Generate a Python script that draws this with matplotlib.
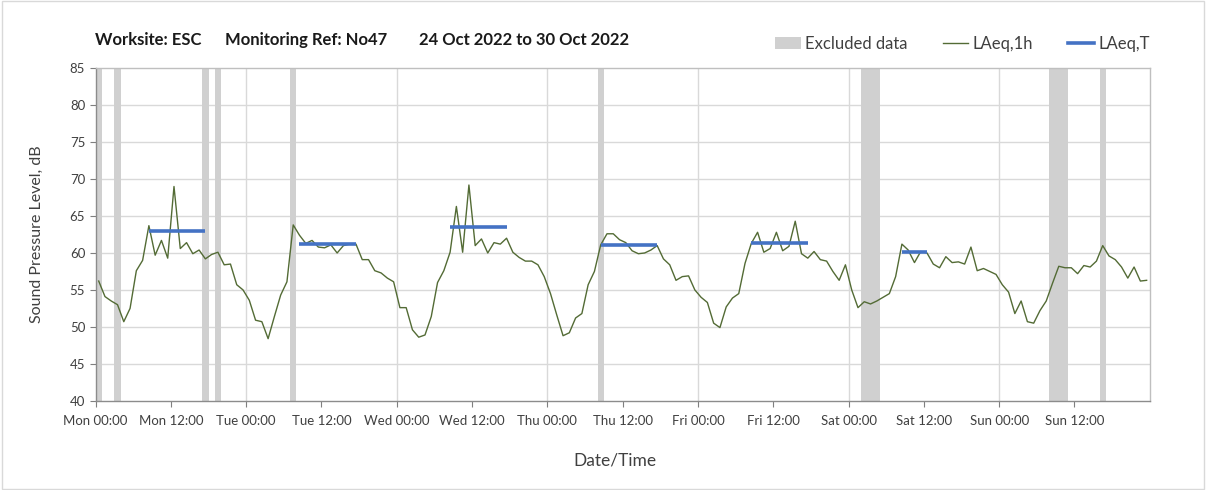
import matplotlib
matplotlib.use("Agg")
import matplotlib.pyplot as plt
from matplotlib.patches import Patch, Rectangle
from matplotlib.lines import Line2D

plt.rcParams['font.family'] = ['Lato', 'DejaVu Sans']

# hourly LAeq,1h values, Mon 00:00 .. Sun 23:00
laeq_1h = [
    # Mon
    56.2, 54.1, 53.5, 53.0, 50.7, 52.5, 57.6, 59.0, 63.7, 59.7, 61.7, 59.3,
    69.0, 60.6, 61.4, 59.9, 60.4, 59.2, 59.8, 60.1, 58.4, 58.5, 55.7, 55.0,
    # Tue
    53.6, 50.9, 50.7, 48.4, 51.4, 54.3, 56.1, 63.8, 62.4, 61.3, 61.7, 60.8,
    60.7, 61.1, 60.0, 61.0, 61.2, 61.2, 59.1, 59.1, 57.6, 57.3, 56.6, 56.1,
    # Wed
    52.6, 52.6, 49.6, 48.6, 48.9, 51.4, 56.0, 57.6, 60.1, 66.3, 60.1, 69.2,
    61.0, 61.9, 60.0, 61.4, 61.2, 62.0, 60.1, 59.4, 58.9, 58.9, 58.4, 56.8,
    # Thu
    54.5, 51.6, 48.8, 49.2, 51.2, 51.8, 55.7, 57.5, 61.1, 62.6, 62.6, 61.8,
    61.4, 60.3, 59.9, 60.0, 60.4, 61.0, 59.2, 58.4, 56.3, 56.8, 56.9, 55.0,
    # Fri
    54.0, 53.3, 50.5, 49.9, 52.7, 53.9, 54.5, 58.6, 61.3, 62.8, 60.1, 60.6,
    62.8, 60.3, 60.9, 64.3, 59.9, 59.3, 60.2, 59.1, 58.9, 57.5, 56.3, 58.4,
    # Sat
    55.0, 52.6, 53.4, 53.1, 53.5, 54.0, 54.5, 56.8, 61.2, 60.4, 58.7, 60.2,
    60.0, 58.5, 58.0, 59.5, 58.7, 58.8, 58.5, 60.8, 57.6, 57.9, 57.5, 57.1,
    # Sun
    55.7, 54.7, 51.8, 53.5, 50.7, 50.5, 52.2, 53.5, 55.9, 58.2, 58.0, 58.0,
    57.2, 58.3, 58.1, 58.9, 61.0, 59.6, 59.1, 58.1, 56.6, 58.1, 56.2, 56.3,
]

# LAeq,T periods (first hour, last hour, level)
laeqT_first = [8, 32, 56, 80, 104, 128]
laeqT_last = [17, 41, 65, 89, 113, 132]
laeqT_level = [63.0, 61.2, 63.5, 61.1, 61.4, 60.1]

# excluded periods (start hour, number of hours)
excl_start = [0, 3, 17, 19, 31, 80, 122, 152, 160]
excl_hours = [1, 1, 1, 1, 1, 1, 3, 3, 1]

days = ['Mon', 'Tue', 'Wed', 'Thu', 'Fri', 'Sat', 'Sun']
tick_labels = [f'{d} {t}' for d in days for t in ('00:00', '12:00')]

title_parts = ['Worksite: ESC', 'Monitoring Ref: No47', '24 Oct 2022 to 30 Oct 2022']

line_col = '#536b35'
blue = '#4472c4'
grey = '#d0d0d0'
txt = '#404040'

fig = plt.figure(figsize=(12.08, 4.9), dpi=100)
ax = fig.add_axes([0.0791, 0.1822, 0.8727, 0.6784])

for s, n in zip(excl_start, excl_hours):
    ax.axvspan(s, s + n, color=grey, lw=0, zorder=1)

hours_mid = [h + 0.5 for h in range(len(laeq_1h))]
ax.plot(hours_mid, laeq_1h, color=line_col, lw=1.0, zorder=3)

for a, b, v in zip(laeqT_first, laeqT_last, laeqT_level):
    ax.hlines(v, a + 0.5, b + 0.5, color=blue, lw=2.6, zorder=4)

ax.set_xlim(0, 168)
ax.set_ylim(40, 85)
ax.set_yticks(range(40, 86, 5))
ax.set_xticks(range(0, 168, 12))
ax.set_xticklabels(tick_labels)
ax.tick_params(axis='both', labelsize=9.5, colors='#7f7f7f', length=4,
               width=0.8, labelcolor=txt)
ax.tick_params(axis='x', pad=6)

for y in range(45, 85, 5):
    ax.axhline(y, color='#d9d9d9', lw=1.0, zorder=0)
for x in range(24, 168, 24):
    ax.axvline(x, color='#d9d9d9', lw=1.0, zorder=0)

for side in ['top', 'right']:
    ax.spines[side].set_color('#bfbfbf')
for side in ['left', 'bottom']:
    ax.spines[side].set_color('#8c8c8c')
for sp in ax.spines.values():
    sp.set_linewidth(1.0)

ax.set_ylabel('Sound Pressure Level, dB', fontsize=11.5, color=txt)
ax.yaxis.set_label_coords(-0.049, 0.5)
fig.text(615 / 1208, 1 - 460 / 490, 'Date/Time', fontsize=12.5, color=txt,
         ha='center', va='center')

for xp, s in zip([95, 225, 419], title_parts):
    fig.text(xp / 1208, 1 - 40 / 490, s, fontsize=12, fontweight='bold',
             color='#1a1a1a', ha='left', va='center')

handles = [Patch(facecolor=grey, edgecolor='none'),
           Line2D([], [], color=line_col, lw=1.0),
           Line2D([], [], color=blue, lw=2.6)]
fig.legend(handles, ['Excluded data', 'LAeq,1h', 'LAeq,T'], ncol=3, frameon=False,
           loc='center left', bbox_to_anchor=(775 / 1208, 1 - 44 / 490),
           borderpad=0, borderaxespad=0,
           fontsize=12, handlelength=1.55, handletextpad=0.25, columnspacing=2.1,
           labelcolor=txt)

fig.patches.append(Rectangle((0.002, 0.003), 0.995, 0.994, transform=fig.transFigure,
                             fill=False, edgecolor='#d9d9d9', lw=1.0))

fig.savefig('out.png', dpi=100, facecolor='white')
